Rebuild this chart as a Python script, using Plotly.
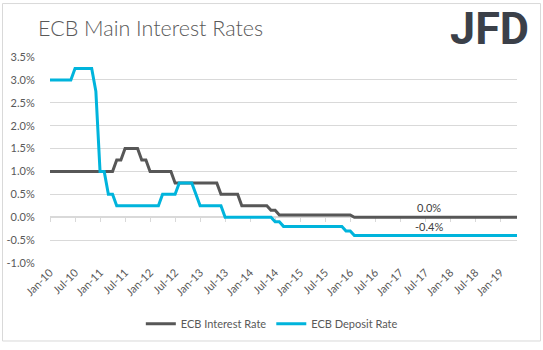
import plotly.graph_objects as go

# ---- data ----
months = ["Jan","Feb","Mar","Apr","May","Jun","Jul","Aug","Sep","Oct","Nov","Dec"]
categories = [f"{m}-{str(y)[2:]}" for y in range(2010, 2020) for m in months][:113]  # Jan-10 .. May-19

interest_rate = ([1.0]*16 + [1.25]*2 + [1.5]*4 + [1.25]*2 + [1.0]*6 + [0.75]*11 +
                 [0.5]*5 + [0.25]*7 + [0.15]*2 + [0.05]*18 + [0.0]*40)
deposit_rate = ([3.0]*6 + [3.25]*5 + [2.75] + [1.0]*2 + [0.5]*2 + [0.25]*11 + [0.5]*4 +
                [0.75]*4 + [0.5] + [0.25]*6 + [0.0]*12 + [-0.1]*2 + [-0.2]*15 + [-0.3]*2 +
                [-0.4]*40)
interest_rate = interest_rate[:len(categories)]
deposit_rate = deposit_rate[:len(categories)]

x_tick_labels = [c for i, c in enumerate(categories) if i % 6 == 0]
y_tick_values = [-1.0, -0.5, 0.0, 0.5, 1.0, 1.5, 2.0, 2.5, 3.0, 3.5]
y_tick_labels = ["-1.0%", "-0.5%", "0.0%", "0.5%", "1.0%", "1.5%", "2.0%", "2.5%", "3.0%", "3.5%"]
series_names = ["ECB Interest Rate", "ECB Deposit Rate"]
end_labels = ["0.0%", "-0.4%"]
label_category = categories[91]

# ---- style ----
DARK = "#575757"
CYAN = "#00B4DC"
GRID = "#D9D9D9"
TXT = "#595959"
FONT = "Lato"
y_min, y_max = -1.0, 3.5

fig = go.Figure()
fig.add_trace(go.Scatter(x=categories, y=interest_rate, name=series_names[0], mode="lines",
                         line=dict(color=DARK, width=3)))
fig.add_trace(go.Scatter(x=categories, y=deposit_rate, name=series_names[1], mode="lines",
                         line=dict(color=CYAN, width=3)))
# invisible trace to carry the horizontal axis drawn at zero
fig.add_trace(go.Scatter(x=categories, y=interest_rate, xaxis="x2", mode="lines",
                         line=dict(width=0), opacity=0, showlegend=False, hoverinfo="skip"))

fig.add_annotation(x=label_category, y=interest_rate[91], text=end_labels[0], showarrow=False,
                   yshift=10, font=dict(family=FONT, size=11, color="#404040"))
fig.add_annotation(x=label_category, y=deposit_rate[91], text=end_labels[1], showarrow=False,
                   yshift=9, font=dict(family=FONT, size=11, color="#404040"))

fig.add_annotation(xref="paper", yref="paper", x=-0.03, y=1.143, xanchor="left", yanchor="middle",
                   text="ECB Main Interest Rates", showarrow=False,
                   font=dict(family=FONT, size=21.5, color=TXT, weight=300))
fig.add_annotation(xref="paper", yref="paper", x=0.852, y=1.138, xanchor="left", yanchor="middle",
                   text="JFD", showarrow=False,
                   font=dict(family="Roboto", size=45, color="#3B4049", weight=700))

fig.add_shape(type="rect", xref="paper", yref="paper", x0=-0.1017, x1=1.0503, y0=-0.3786, y1=1.2595,
              line=dict(color=GRID, width=1), layer="below")

zero_pos = (0 - y_min) / (y_max - y_min)

fig.update_layout(
    width=543, height=350,
    margin=dict(l=50, r=26, t=57, b=83),
    paper_bgcolor="white", plot_bgcolor="white",
    font=dict(family=FONT, size=11, color=TXT),
    showlegend=True,
    legend=dict(orientation="h", x=0.475, xanchor="center", y=-0.295, yanchor="middle",
                font=dict(family=FONT, size=11, color=TXT), itemwidth=30),
    xaxis=dict(type="category", categoryarray=categories, range=[0, len(categories) - 1],
               tickvals=x_tick_labels, ticktext=x_tick_labels, tickangle=-45,
               showgrid=False, showline=False, ticks="", zeroline=False, automargin=False,
               tickfont=dict(family=FONT, size=11, color=TXT)),
    xaxis2=dict(type="category", categoryarray=categories, range=[0, len(categories) - 1],
                overlaying="x", anchor="free", position=zero_pos, automargin=False,
                tickvals=x_tick_labels, showticklabels=False, showgrid=False,
                showline=True, linecolor=GRID, linewidth=2, ticks="outside", ticklen=4,
                tickcolor=GRID, tickwidth=1, layer="below traces"),
    yaxis=dict(range=[y_min, y_max], tickvals=y_tick_values, ticktext=y_tick_labels,
               showgrid=True, gridcolor=GRID, gridwidth=1, zeroline=False, showline=False,
               ticks="outside", ticklen=12, tickcolor="rgba(0,0,0,0)", automargin=False,
               tickfont=dict(family=FONT, size=11, color=TXT)),
)

fig.write_html("out.html")
